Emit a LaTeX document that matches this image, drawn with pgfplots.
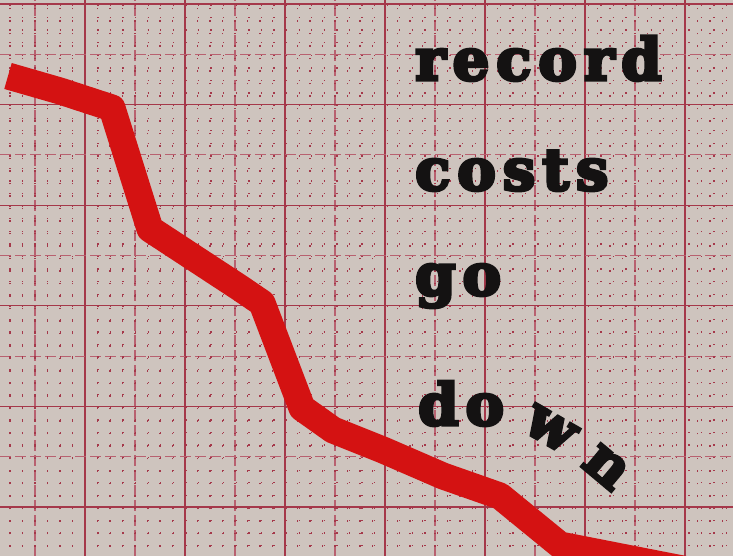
\documentclass[border=0pt]{standalone}
\usepackage{fontspec}
\usepackage{pgfplots}
\pgfplotsset{compat=1.18}
\newfontfamily\heavy[FakeBold=5.5,LetterSpace=12]{DejaVu Serif Bold}
\definecolor{paper}{RGB}{206,196,190}
\definecolor{gridred}{RGB}{160,45,65}
\definecolor{inkred}{RGB}{212,18,18}
\definecolor{ink}{RGB}{20,18,18}
\begin{document}
\begin{tikzpicture}
\begin{axis}[
    scale only axis,
    width=733bp, height=556bp,
    xmin=0, xmax=733, ymin=0, ymax=556,
    axis background/.style={fill=paper},
    axis line style={draw=none},
    major tick length=0pt, minor tick length=0pt,
    xticklabels={}, yticklabels={},
    xtick={85,185,...,685},
    minor xtick={35,135,...,635},
    ytick={49,149.6,...,553},
    minor ytick={99.3,199.9,...,503},
    extra x ticks={10,22.5,...,733},
    extra y ticks={-2.3,10.275,...,556},
    extra x tick labels={}, extra y tick labels={},
    extra x tick style={grid style={gridred!55, line width=1.3bp, dash pattern=on 1.3bp off 11.2bp, dash phase=3.3bp}},
    extra y tick style={grid style={gridred!55, line width=1.3bp, dash pattern=on 1.3bp off 11.275bp, dash phase=3.3bp}},
    grid=both,
    major grid style={gridred!95, line width=1.3bp},
    minor grid style={gridred!75, line width=1.1bp, dash pattern=on 11bp off 4bp},
    clip=true,
]
\coordinate (ll) at (rel axis cs:0,0);
\coordinate (ur) at (rel axis cs:1,1);
\addplot[inkred, line width=27bp, line join=round, line cap=butt] coordinates {
    (8,480) (60,465) (112,448) (150,327) (240,268) (262,253) (302,148)
    (333,126) (383,106) (443,80) (500,60) (560,11) (667,-10) (740,-24)
};
\node[anchor=base west, inner sep=0pt, text=ink, font=\heavy\fontsize{58}{64}\selectfont] at (axis cs:415,476) {record};
\node[anchor=base west, inner sep=0pt, text=ink, font=\heavy\fontsize{58}{64}\selectfont] at (axis cs:415,366) {costs};
\node[anchor=base west, inner sep=0pt, text=ink, font=\heavy\fontsize{58}{64}\selectfont] at (axis cs:415,261) {go};
\node[anchor=base west, inner sep=0pt, text=ink, font=\heavy\fontsize{58}{64}\selectfont] at (axis cs:418,131) {do};
\node[inner sep=0pt, rotate=-30, text=ink, font=\heavy\fontsize{58}{64}\selectfont] at (axis cs:550,127) {w};
\node[inner sep=0pt, rotate=-40, text=ink, font=\heavy\fontsize{58}{64}\selectfont] at (axis cs:606,89) {n};
\end{axis}
\pgfresetboundingbox
\path[use as bounding box] (ll) rectangle (ur);
\end{tikzpicture}
\end{document}
